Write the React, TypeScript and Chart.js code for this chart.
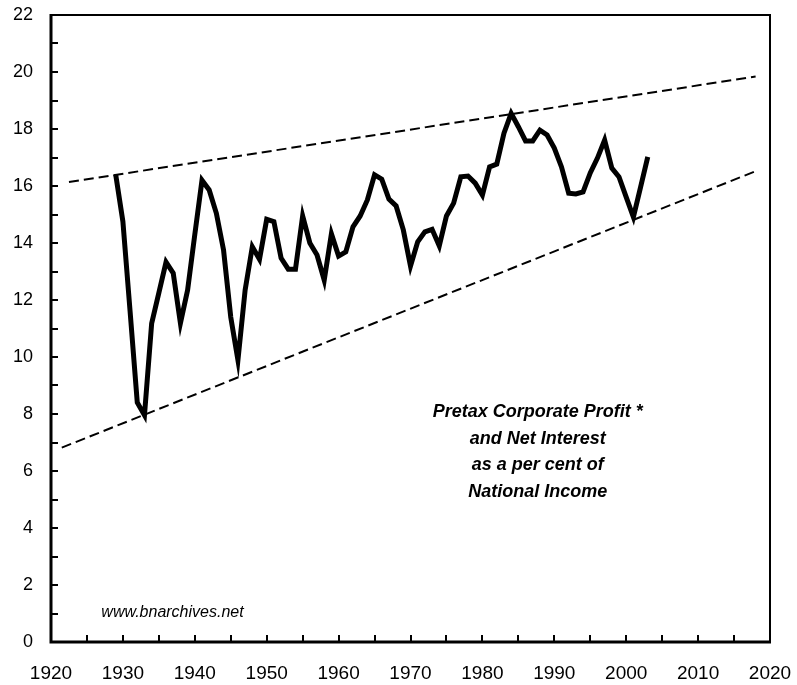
import React, { useEffect, useRef } from "react";
import { Chart, registerables } from "chart.js";

Chart.register(...registerables);

const years = [
  1929, 1930, 1931, 1932, 1933, 1934, 1935, 1936, 1937, 1938, 1939,
  1940, 1941, 1942, 1943, 1944, 1945, 1946, 1947, 1948, 1949,
  1950, 1951, 1952, 1953, 1954, 1955, 1956, 1957, 1958, 1959,
  1960, 1961, 1962, 1963, 1964, 1965, 1966, 1967, 1968, 1969,
  1970, 1971, 1972, 1973, 1974, 1975, 1976, 1977, 1978, 1979,
  1980, 1981, 1982, 1983, 1984, 1985, 1986, 1987, 1988, 1989,
  1990, 1991, 1992, 1993, 1994, 1995, 1996, 1997, 1998, 1999,
  2000, 2001, 2002, 2003,
];

const profitShare = [
  16.4, 14.75, 11.6, 8.4, 7.96, 11.18, 12.25, 13.33, 12.94, 11.19, 12.35,
  14.3, 16.2, 15.86, 15.04, 13.75, 11.4, 9.89, 12.35, 13.87, 13.43,
  14.83, 14.75, 13.47, 13.08, 13.08, 14.95, 14.0, 13.58, 12.7, 14.32,
  13.54, 13.69, 14.57, 14.95, 15.51, 16.39, 16.24, 15.54, 15.3, 14.46,
  13.19, 14.04, 14.39, 14.48, 13.9, 14.95, 15.4, 16.32, 16.35, 16.1,
  15.68, 16.67, 16.77, 17.85, 18.55, 18.08, 17.58, 17.58, 17.96, 17.79,
  17.33, 16.67, 15.75, 15.72, 15.79, 16.46, 16.98, 17.61, 16.63, 16.32,
  15.61, 14.91, 15.96, 17.02,
];

const upperTrendYears = [1922.5, 2018];
const upperTrendValues = [16.14, 19.84];
const lowerTrendYears = [1921.5, 2018];
const lowerTrendValues = [6.82, 16.52];

const xTickLabels = [1920, 1930, 1940, 1950, 1960, 1970, 1980, 1990, 2000, 2010, 2020];
const yTickLabels = [0, 2, 4, 6, 8, 10, 12, 14, 16, 18, 20, 22];

const titleLines = [
  "Pretax Corporate Profit *",
  "and Net Interest",
  "as a per cent of",
  "National Income",
];
const titleAnchorYear = 1987.7;
const titleAnchorValue = 8.07;
const sourceText = "www.bnarchives.net";
const sourceAnchorYear = 1936.9;
const sourceAnchorValue = 1.05;

const FONT = "'Liberation Sans', Arial, Helvetica, sans-serif";

const clearPadding = (s: any) => {
  s.paddingTop = 0;
  s.paddingBottom = 0;
  s.paddingLeft = 0;
  s.paddingRight = 0;
};

const framePlugin = {
  id: "frame",
  afterDraw(chart: any) {
    const { ctx, chartArea, scales } = chart;
    const { left, right, top, bottom } = chartArea;
    const x = scales.x;
    const y = scales.y;
    ctx.save();
    ctx.strokeStyle = "#000";
    ctx.lineCap = "butt";
    ctx.lineWidth = 2;
    ctx.beginPath();
    ctx.moveTo(left, top);
    ctx.lineTo(right, top);
    ctx.lineTo(right, bottom);
    ctx.stroke();
    ctx.lineWidth = 3;
    ctx.beginPath();
    ctx.moveTo(left, top - 1);
    ctx.lineTo(left, bottom);
    ctx.lineTo(right + 1, bottom);
    ctx.stroke();
    ctx.lineWidth = 2;
    ctx.beginPath();
    for (const t of x.ticks) {
      const px = Math.round(x.getPixelForValue(t.value));
      if (px <= left + 2 || px >= right - 2) continue;
      ctx.moveTo(px, bottom);
      ctx.lineTo(px, bottom - 7);
    }
    for (const t of y.ticks) {
      const py = Math.round(y.getPixelForValue(t.value));
      if (py >= bottom - 2) continue;
      ctx.moveTo(left, py);
      ctx.lineTo(left + 7, py);
    }
    ctx.stroke();

    ctx.fillStyle = "#000";
    ctx.textAlign = "center";
    ctx.textBaseline = "middle";
    ctx.font = `italic bold 18px ${FONT}`;
    const tx = x.getPixelForValue(titleAnchorYear);
    const ty = y.getPixelForValue(titleAnchorValue);
    titleLines.forEach((line, i) => {
      ctx.fillText(line, tx, ty + i * 26.7);
    });
    ctx.font = `italic 16px ${FONT}`;
    ctx.fillText(sourceText, x.getPixelForValue(sourceAnchorYear), y.getPixelForValue(sourceAnchorValue));
    ctx.restore();
  },
};

export default function App() {
  const canvasRef = useRef<HTMLCanvasElement | null>(null);

  useEffect(() => {
    document.body.style.margin = "0";
    const canvas = canvasRef.current;
    if (!canvas) return;
    const chart = new Chart(canvas, {
      type: "line",
      data: {
        datasets: [
          {
            label: "Profit + Net Interest",
            data: years.map((yr, i) => ({ x: yr, y: profitShare[i] })),
            borderColor: "#000",
            borderWidth: 5,
            pointRadius: 0,
            tension: 0,
            borderJoinStyle: "miter",
            borderCapStyle: "butt",
            fill: false,
          },
          {
            label: "Upper trend",
            data: upperTrendYears.map((yr, i) => ({ x: yr, y: upperTrendValues[i] })),
            borderColor: "#000",
            borderWidth: 2,
            borderDash: [10, 5],
            pointRadius: 0,
            fill: false,
          },
          {
            label: "Lower trend",
            data: lowerTrendYears.map((yr, i) => ({ x: yr, y: lowerTrendValues[i] })),
            borderColor: "#000",
            borderWidth: 2,
            borderDash: [10, 5],
            pointRadius: 0,
            fill: false,
          },
        ],
      },
      options: {
        animation: false,
        responsive: true,
        maintainAspectRatio: false,
        layout: { padding: { top: 15, right: 27, left: 0, bottom: 0 } },
        plugins: {
          legend: { display: false },
          tooltip: { enabled: false },
          title: { display: false },
        },
        scales: {
          x: {
            type: "linear",
            min: 1920,
            max: 2020,
            grid: { display: false, drawTicks: false },
            border: { display: false },
            afterFit: (s: any) => {
              s.height = 43;
              clearPadding(s);
            },
            ticks: {
              stepSize: 5,
              autoSkip: false,
              maxRotation: 0,
              padding: 20,
              color: "#000",
              font: { family: FONT, size: 19 },
              callback: (v: any) => (xTickLabels.includes(Number(v)) ? String(v) : ""),
            },
          },
          y: {
            type: "linear",
            min: 0,
            max: 22,
            grid: { display: false, drawTicks: false },
            border: { display: false },
            afterFit: (s: any) => {
              s.width = 51;
              clearPadding(s);
            },
            ticks: {
              stepSize: 1,
              autoSkip: false,
              padding: 18,
              color: "#000",
              font: { family: FONT, size: 18 },
              callback: (v: any) => (yTickLabels.includes(Number(v)) ? String(v) : ""),
            },
          },
        },
      },
      plugins: [framePlugin],
    });
    return () => chart.destroy();
  }, []);

  return (
    <div style={{ width: 797, height: 685, position: "relative" }}>
      <canvas ref={canvasRef} />
    </div>
  );
}
